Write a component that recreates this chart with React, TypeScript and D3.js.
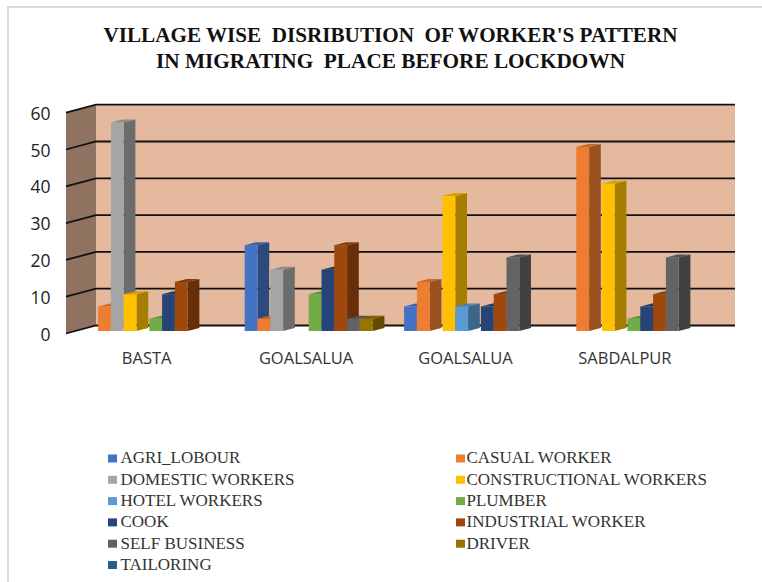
import React from "react";
import * as d3 from "d3";

const titleLines = ["VILLAGE WISE  DISRIBUTION  OF WORKER'S PATTERN", "IN MIGRATING  PLACE BEFORE LOCKDOWN"];
const categories = ["BASTA", "GOALSALUA", "GOALSALUA ", "SABDALPUR"];
const yTicks = [0, 10, 20, 30, 40, 50, 60];
const seriesNames = ["AGRI_LOBOUR", "CASUAL WORKER", "DOMESTIC WORKERS", "CONSTRUCTIONAL WORKERS", "HOTEL WORKERS", "PLUMBER", "COOK", "INDUSTRIAL WORKER", "SELF BUSINESS", "DRIVER", "TAILORING"];
const seriesColors = ["#4472c4", "#ed7d31", "#a5a5a5", "#ffc000", "#5b9bd5", "#70ad47", "#264478", "#9e480e", "#636363", "#997300", "#255e91"];
const agri = [0, 23.33, 6.67, 0];
const casual = [6.67, 3.33, 13.33, 50];
const domestic = [56.67, 16.67, 0, 0];
const constructional = [10, 0, 36.67, 40];
const hotel = [0, 0, 6.67, 0];
const plumber = [3.33, 10, 0, 3.33];
const cook = [10, 16.67, 6.67, 6.67];
const industrial = [13.33, 23.33, 10, 10];
const selfBusiness = [0, 3.33, 20, 20];
const driver = [0, 3.33, 0, 0];
const tailoring = [0, 0, 0, 0];
const seriesValues = [agri, casual, domestic, constructional, hotel, plumber, cook, industrial, selfBusiness, driver, tailoring];

const depthX = 30, depthY = 8;
const barDx = 11.7, barDy = 3;
const wallLeft = 66, wallRight = 735 - depthX;
const y = d3.scaleLinear().domain([0, 60]).range([333.5, 112.7]);
const barBase = 331;
const barH = (v: number) => y(0) - y(v);
const x0 = d3.scaleBand<string>().domain(categories).range([76, 713.6]);
const x1 = d3.scaleBand<string>().domain(seriesNames).range([9.3, 150.1]);

const shade = (c: string, k: number) => d3.rgb(c).darker(k).formatHex();

export default function App() {
  const bw = x1.bandwidth();
  return (
    <svg width={762} height={582} style={{ position: "absolute", left: 0, top: 0, background: "#fff" }}>
      <line x1={8} y1={7} x2={8} y2={582} stroke="#d9d9d9" strokeWidth={2} />
      <line x1={7} y1={7} x2={762} y2={7} stroke="#d9d9d9" strokeWidth={2} />
      {titleLines.map((t, i) => (
        <text key={i} x={390.5} y={42 + i * 25.5} textAnchor="middle" fontFamily="Liberation Serif" fontWeight="bold" fontSize={20.5} textLength={i === 0 ? 574 : 469} lengthAdjust="spacingAndGlyphs" fill="#111" style={{ whiteSpace: "pre" }}>{t}</text>
      ))}
      <rect x={wallLeft + depthX} y={y(60) - depthY} width={wallRight - wallLeft} height={y(0) - y(60)} fill="#e4b99d" />
      <polygon points={`${wallLeft},${y(60)} ${wallLeft + depthX},${y(60) - depthY} ${wallLeft + depthX},${y(0) - depthY} ${wallLeft},${y(0)}`} fill="#8f7360" />
      {yTicks.map((t) => (
        <g key={t}>
          <polyline points={`${wallLeft},${y(t)} ${wallLeft + depthX},${y(t) - depthY} ${wallRight + depthX},${y(t) - depthY}`} fill="none" stroke="#111" strokeWidth={1.8} />
          <text x={50.5} y={y(t) + 2.5} textAnchor="end" dominantBaseline="middle" fontFamily="Open Sans" fontSize={17.5} fill="#222">{t}</text>
        </g>
      ))}
      {categories.map((c, ci) => (
        <g key={c}>
          {seriesNames.map((s, si) => {
            const v = seriesValues[si][ci];
            if (!v) return null;
            const bx = (x0(c) as number) + (x1(s) as number);
            const top = barBase - barH(v);
            const col = seriesColors[si];
            return (
              <g key={s}>
                <polygon points={`${bx + bw},${barBase} ${bx + bw + barDx},${barBase - barDy} ${bx + bw + barDx},${top - barDy} ${bx + bw},${top}`} fill={shade(col, 1.2)} />
                <polygon points={`${bx},${top} ${bx + barDx},${top - barDy} ${bx + bw + barDx},${top - barDy} ${bx + bw},${top}`} fill={shade(col, 0.5)} />
                <rect x={bx} y={top} width={bw} height={barBase - top} fill={col} />
              </g>
            );
          })}
          <text x={(x0(c) as number) + x0.bandwidth() / 2 - 9} y={359.5} textAnchor="middle" dominantBaseline="middle" fontFamily="Open Sans" fontSize={16.5} fill="#333">{c.trim()}</text>
        </g>
      ))}
      {seriesNames.map((s, i) => {
        const col = i % 2;
        const row = Math.floor(i / 2);
        const lx = col === 0 ? 108 : 456;
        const tx = col === 0 ? 120.5 : 466.5;
        const ly = 458.5 + row * 21.3;
        return (
          <g key={s}>
            <rect x={lx} y={ly - 4} width={9} height={8} fill={seriesColors[i]} />
            <text x={tx} y={ly + 1} dominantBaseline="middle" fontFamily="Liberation Serif" fontSize={17} fill="#333">{s}</text>
          </g>
        );
      })}
    </svg>
  );
}
